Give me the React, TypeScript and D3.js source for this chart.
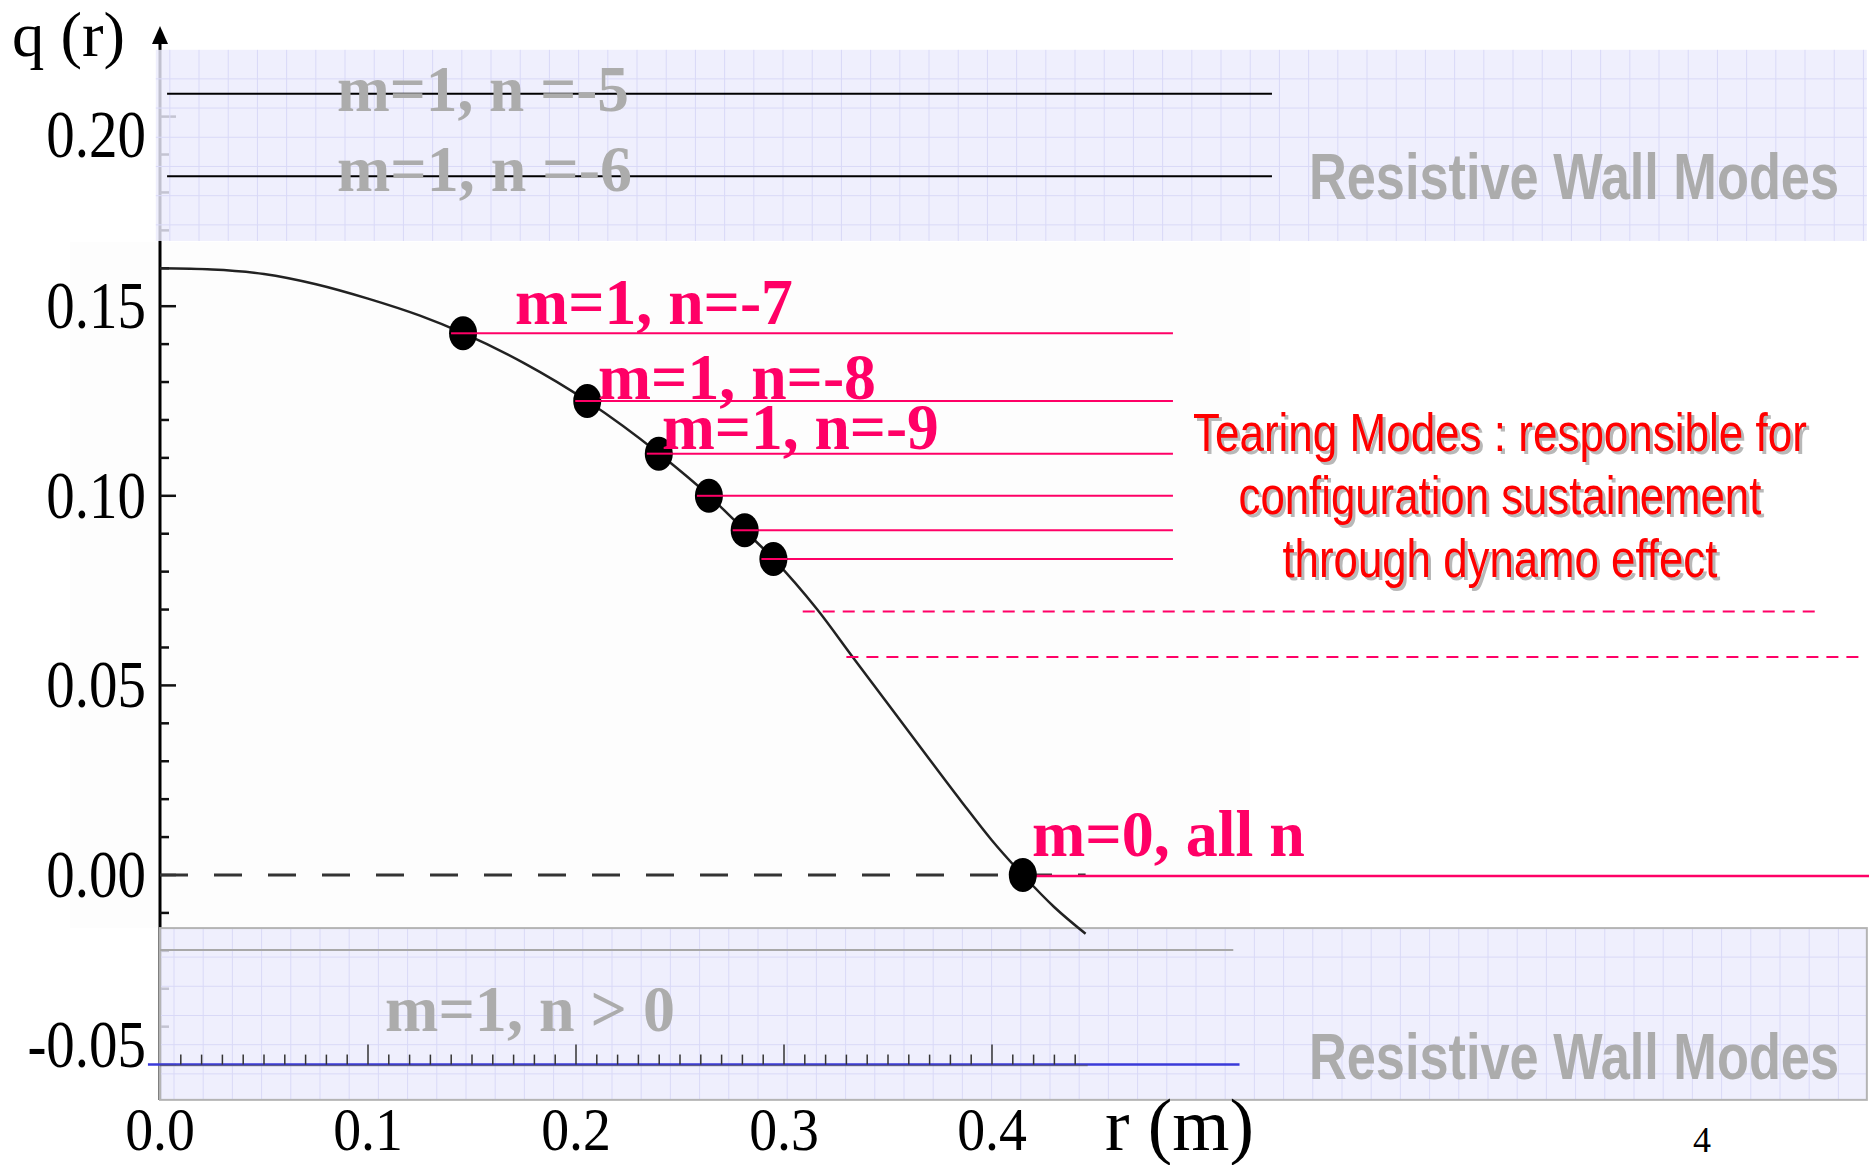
import React, { useLayoutEffect, useRef, useState } from "react";
import * as d3 from "d3";

const W = 1869;
const H = 1165;

// q(r) safety-factor profile
const profileR = [0, 0.025, 0.05, 0.075, 0.1, 0.125, 0.1457, 0.175, 0.2054, 0.24, 0.264, 0.281, 0.295, 0.316, 0.333, 0.36, 0.385, 0.4, 0.4148, 0.43, 0.445];
const profileQ = [0.16, 0.1597, 0.1585, 0.1558, 0.152, 0.1475, 0.1429, 0.135, 0.125, 0.1111, 0.1, 0.0909, 0.0833, 0.07, 0.0575, 0.0378, 0.0196, 0.0091, 0.0, -0.0085, -0.0155];

// resonant surfaces m=1, q = 1/|n|
const resonantN = [7, 8, 9, 10, 11, 12];
const resonantR = [0.1457, 0.2054, 0.2398, 0.2639, 0.2811, 0.2949];
const tearingLineEndR = 0.487;
// reversal surface m=0
const reversalR = 0.4148;
const reversalLineEndR = 0.822;
// dashed (further tearing) lines
const dashedQ = [0.0695, 0.0575];
const dashedStartR = [0.309, 0.33];
const dashedEndR = [0.797, 0.818];
// resistive wall mode lines
const wallLineQ = [0.206, 0.1843];
const wallLineR = [0.0034, 0.5346];
const negLineQ = -0.0198;
const negLineR = [0, 0.516];
const blueLineQ = -0.05;
const blueLineR = [-0.0058, 0.519];
// shaded bands [r0, r1, q0, q1]
const topBand = [-0.002, 0.8206, 0.1672, 0.2176];
const bottomBand = [0, 0.8206, -0.0593, -0.014];
const zeroLineEndR = 0.445;

// tick labels
const yTickValues = [-0.05, 0.0, 0.05, 0.1, 0.15, 0.2];
const yTickLabels = ["-0.05", "0.00", "0.05", "0.10", "0.15", "0.20"];
const yTickLabelShift = [-20, 0, 0, 0, 0, 18];
const xTickValues = [0.0, 0.1, 0.2, 0.3, 0.4];
const xTickLabels = ["0.0", "0.1", "0.2", "0.3", "0.4"];

// annotations: text, r (left), q (baseline), width px
const pinkLabels = ["m=1, n=-7", "m=1, n=-8", "m=1, n=-9", "m=0, all n"];
const pinkLabelR = [0.1707, 0.2106, 0.2413, 0.4192];
const pinkLabelQ = [0.1453, 0.1255, 0.1123, 0.005];
const pinkLabelW = [278, 278, 277, 273];

const grayLabels = ["m=1, n =-5", "m=1, n =-6", "m=1, n > 0"];
const grayLabelR = [0.0851, 0.0851, 0.1082];
const grayLabelQ = [0.2015, 0.1804, -0.0411];
const grayLabelW = [292, 295, 290];

const rwmLabel = "Resistive Wall Modes";
const rwmR = 0.5524;
const rwmQ = [0.1783, -0.0538];

const tearingText = ["Tearing Modes : responsible for", "configuration sustainement", "through dynamo effect"];
const tearingTextW = [614, 523, 435];
const tearingCenterR = 0.6442;
const tearingQ = [0.1118, 0.0952, 0.0786];

const PINK = "#ff0066";
const GRAY = "#acacac";
const SERIF = "'Liberation Serif', 'Times New Roman', serif";
const SANS = "'Liberation Sans', Arial, sans-serif";

const x = d3.scaleLinear().domain([0, 0.4]).range([160, 992]);
const y = d3.scaleLinear().domain([-0.05, 0.2]).range([1064.6, 116.6]);

type FitProps = {
  x: number;
  y: number;
  width: number;
  anchor?: "start" | "middle" | "end";
  fontFamily: string;
  fontSize: number;
  fontWeight?: string;
  fill: string;
  children: string;
};

function FitText({ x: px, y: py, width, anchor = "start", fontFamily, fontSize, fontWeight, fill, children }: FitProps) {
  const ref = useRef<SVGTextElement>(null);
  const [s, setS] = useState(0.85);
  useLayoutEffect(() => {
    if (ref.current) {
      const w = ref.current.getComputedTextLength();
      if (w > 0) setS(width / w);
    }
  }, [width, children, fontSize]);
  return (
    <g transform={`translate(${px}, ${py}) scale(${s}, 1)`}>
      <text
        ref={ref}
        x={0}
        y={0}
        textAnchor={anchor}
        fontFamily={fontFamily}
        fontSize={fontSize}
        fontWeight={fontWeight}
        fill={fill}
      >
        {children}
      </text>
    </g>
  );
}

function Band({ b, border }: { b: number[]; border: boolean }) {
  const x0 = x(b[0]);
  const x1 = x(b[1]);
  const y0 = y(b[3]);
  const y1 = y(b[2]);
  const step = 29.2;
  const vs = d3.range(x0 + 14, x1, step);
  const hs = d3.range(y0 + 29, y1, step);
  return (
    <g>
      <rect x={x0} y={y0} width={x1 - x0} height={y1 - y0} fill="#ececfc" fillOpacity={0.82} />
      {vs.map((v, i) => (
        <line key={"v" + i} x1={v} x2={v} y1={y0} y2={y1} stroke="#d9d9f7" strokeWidth={1} />
      ))}
      {hs.map((h, i) => (
        <line key={"h" + i} x1={x0} x2={x1} y1={h} y2={h} stroke="#d9d9f7" strokeWidth={1} />
      ))}
      {border && (
        <rect x={x0} y={y0} width={x1 - x0} height={y1 - y0} fill="none" stroke="#b4b4b4" strokeWidth={2} />
      )}
    </g>
  );
}

export default function App() {
  const line = d3
    .line<number>()
    .x((_, i) => x(profileR[i]))
    .y((d) => y(d))
    .curve(d3.curveMonotoneX);
  const path = line(profileQ) || "";

  const minorY = d3.range(-5, 21).map((i) => i / 100);
  const minorX = d3.range(0, 45).map((i) => i / 100);

  return (
    <svg
      width={W}
      height={H}
      viewBox={`0 0 ${W} ${H}`}
      style={{ position: "absolute", left: 0, top: 0, background: "#ffffff", display: "block" }}
    >
      <rect x={0} y={0} width={W} height={H} fill="#ffffff" />
      <rect x={70} y={242} width={1180} height={686} fill="#fdfdfd" />

      {/* Y axis */}
      <line x1={x(0)} x2={x(0)} y1={32} y2={1100} stroke="#000" strokeWidth={3} />
      <path d={`M${x(0)},26 L${x(0) - 8},44 L${x(0) + 8},44 Z`} fill="#000" />
      {minorY.map((v, i) => {
        const major = Math.round(v * 100) % 5 === 0;
        return (
          <line
            key={"yt" + i}
            x1={x(0)}
            x2={x(0) + (major ? 16 : 9)}
            y1={y(v)}
            y2={y(v)}
            stroke="#111"
            strokeWidth={2.5}
          />
        );
      })}

      {/* bands */}
      <Band b={topBand} border={false} />
      <Band b={bottomBand} border={true} />

      {/* y tick labels */}
      {yTickValues.map((v, i) => (
        <g key={"yl" + i} transform={`translate(146, ${y(v) + yTickLabelShift[i] + 22}) scale(0.85, 1)`}>
          <text textAnchor="end" fontFamily={SERIF} fontSize={67} fill="#000">
            {yTickLabels[i]}
          </text>
        </g>
      ))}

      {/* x tick labels */}
      {xTickValues.map((v, i) => (
        <g key={"xl" + i} transform={`translate(${x(v)}, 1150) scale(0.9, 1)`}>
          <text textAnchor="middle" fontFamily={SERIF} fontSize={62} fill="#000">
            {xTickLabels[i]}
          </text>
        </g>
      ))}

      {/* axis titles */}
      <FitText x={12} y={56} width={113} fontFamily={SERIF} fontSize={64} fill="#000">
        q (r)
      </FitText>
      <FitText x={1105} y={1150} width={149} fontFamily={SERIF} fontSize={74} fill="#000">
        r (m)
      </FitText>
      <text x={1702} y={1152} fontFamily={SERIF} fontSize={36} textAnchor="middle" fill="#000">
        4
      </text>

      {/* bottom x ruler */}
      <line x1={x(blueLineR[0])} x2={x(blueLineR[1])} y1={y(blueLineQ)} y2={y(blueLineQ)} stroke="#3a3ad8" strokeWidth={2.5} />
      <line x1={x(0)} x2={x(0.446)} y1={y(blueLineQ) + 1} y2={y(blueLineQ) + 1} stroke="#555" strokeWidth={1.5} strokeOpacity={0.6} />
      {minorX.map((v, i) => {
        const major = i > 0 && i % 10 === 0;
        return i === 0 ? null : (
          <line
            key={"xt" + i}
            x1={x(v)}
            x2={x(v)}
            y1={y(blueLineQ)}
            y2={y(blueLineQ) - (major ? 20 : 10)}
            stroke="#333"
            strokeWidth={1.5}
          />
        );
      })}

      {/* zero dashed line */}
      <line
        x1={x(0)}
        x2={x(zeroLineEndR)}
        y1={y(0)}
        y2={y(0)}
        stroke="#333"
        strokeWidth={3}
        strokeDasharray="28 26"
      />

      {/* wall mode lines */}
      {wallLineQ.map((q, i) => (
        <line key={"wl" + i} x1={x(wallLineR[0])} x2={x(wallLineR[1])} y1={y(q)} y2={y(q)} stroke="#000" strokeWidth={2} />
      ))}
      <line x1={x(negLineR[0])} x2={x(negLineR[1])} y1={y(negLineQ)} y2={y(negLineQ)} stroke="#a8a8a8" strokeWidth={2} />

      {/* gray labels */}
      {grayLabels.map((t, i) => (
        <FitText
          key={"gl" + i}
          x={x(grayLabelR[i])}
          y={y(grayLabelQ[i])}
          width={grayLabelW[i]}
          fontFamily={SERIF}
          fontWeight="bold"
          fontSize={66}
          fill={GRAY}
        >
          {t}
        </FitText>
      ))}
      {rwmQ.map((q, i) => (
        <FitText
          key={"rwm" + i}
          x={x(rwmR)}
          y={y(q)}
          width={530}
          fontFamily={SANS}
          fontWeight="bold"
          fontSize={64}
          fill={GRAY}
        >
          {rwmLabel}
        </FitText>
      ))}

      {/* q profile */}
      <path d={path} fill="none" stroke="#222" strokeWidth={2.5} />

      {/* tearing lines */}
      {resonantN.map((n, i) => (
        <line
          key={"tl" + i}
          x1={x(resonantR[i]) - 12}
          x2={x(tearingLineEndR)}
          y1={y(1 / n)}
          y2={y(1 / n)}
          stroke={PINK}
          strokeWidth={2}
        />
      ))}
      {dashedQ.map((q, i) => (
        <line
          key={"dl" + i}
          x1={x(dashedStartR[i])}
          x2={x(dashedEndR[i])}
          y1={y(q)}
          y2={y(q)}
          stroke={PINK}
          strokeWidth={2}
          strokeDasharray="12 8"
        />
      ))}
      <line x1={x(reversalR) + 12} x2={x(reversalLineEndR)} y1={y(0) + 1} y2={y(0) + 1} stroke={PINK} strokeWidth={2.5} />

      {/* resonant dots */}
      {resonantN.map((n, i) => (
        <ellipse key={"dot" + i} cx={x(resonantR[i])} cy={y(1 / n)} rx={14} ry={17} fill="#000" />
      ))}
      <ellipse cx={x(reversalR)} cy={y(0)} rx={14} ry={17} fill="#000" />
      {resonantN.map((n, i) => (
        <line
          key={"tl2" + i}
          x1={x(resonantR[i]) - 12}
          x2={x(resonantR[i]) + 14}
          y1={y(1 / n)}
          y2={y(1 / n)}
          stroke={PINK}
          strokeWidth={2}
        />
      ))}

      {/* pink labels */}
      {pinkLabels.map((t, i) => (
        <FitText
          key={"pl" + i}
          x={x(pinkLabelR[i])}
          y={y(pinkLabelQ[i])}
          width={pinkLabelW[i]}
          fontFamily={SERIF}
          fontWeight="bold"
          fontSize={66}
          fill={PINK}
        >
          {t}
        </FitText>
      ))}

      {/* tearing modes text */}
      {tearingText.map((t, i) => (
        <g key={"tt" + i}>
          <FitText
            x={x(tearingCenterR) + 3}
            y={y(tearingQ[i]) + 3}
            width={tearingTextW[i]}
            anchor="middle"
            fontFamily={SANS}
            fontSize={54}
            fill="#b8b8b8"
          >
            {t}
          </FitText>
          <FitText
            x={x(tearingCenterR)}
            y={y(tearingQ[i])}
            width={tearingTextW[i]}
            anchor="middle"
            fontFamily={SANS}
            fontSize={54}
            fill="#ff0000"
          >
            {t}
          </FitText>
        </g>
      ))}
    </svg>
  );
}
